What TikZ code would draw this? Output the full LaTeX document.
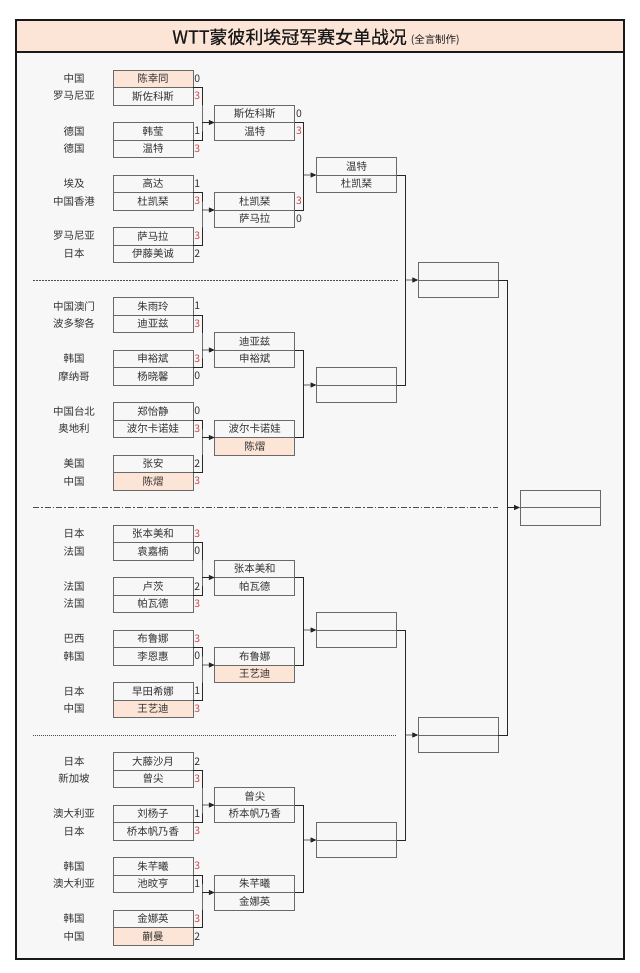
\documentclass[tikz,border=0pt]{standalone}
\usepackage{fontspec}
\setmainfont{Noto Sans CJK SC}
\usetikzlibrary{arrows.meta}
\definecolor{peach}{RGB}{252,228,214}
\definecolor{bg}{RGB}{247,247,247}
\definecolor{boxline}{RGB}{105,105,105}
\definecolor{scred}{RGB}{205,72,72}
\definecolor{txt}{RGB}{50,50,50}
\newcommand\scorecol[1]{\ifnum#1=3 \textcolor{scred}{#1}\else #1\fi}
% row: name, x, ytop, country, player, score, extra style
\newcommand\prow[7]{%
  \node[cell,#7] (#1) at (#2,#3) {#5};
  \ifx&#4&\else \node[country] (#1c) at (74,#3+8.75) {#4};\fi
  \ifx&#6&\else \node[score] (#1s) at ([xshift=1.2bp]#1.east) {\scorecol{#6}};\fi
}
\tikzset{
 cell/.style={draw=boxline, line width=1bp, fill=bg, minimum width=80bp, minimum height=17.5bp,
   inner sep=0pt, outer sep=0pt, anchor=north west, font=\fontsize{10.5}{12}\selectfont, text=txt},
 hl/.style={fill=peach},
 country/.style={font=\fontsize{10.5}{12}\selectfont, text=txt, inner sep=0pt},
 score/.style={anchor=west, inner sep=0pt, font=\fontsize{10.5}{12}\selectfont, text=txt},
 conn/.style={draw=black!85, line width=0.9bp},
 arr/.style={conn, -{Triangle[length=6bp,width=5bp]}},
 frame/.style={draw=black!90, line width=1.6bp},
 sepbase/.style={draw=black!70, line width=0.8bp},
}
\begin{document}
\begin{tikzpicture}[x=1bp,y=-1bp]
\useasboundingbox (0,0) rectangle (640,973);
\fill[white] (0,0) rectangle (640,973);
\fill[bg] (16,20) rectangle (624,959);
\fill[peach] (16,20) rectangle (624,52);
\draw[frame] (16,52) -- (624,52);
\draw[frame] (16,20) rectangle (624,959);
\node[inner sep=0pt, text=black!90] (title) at (316,37) {\fontsize{18}{20}\selectfont\addfontfeature{FakeBold=0.4}WTT蒙彼利埃冠军赛女单战况\hspace{4bp}{\fontsize{10.5}{12}\selectfont\addfontfeature{FakeBold=0}(全言制作)}};

% separators
\coordinate (s1a) at (33,280); \coordinate (s1b) at (398,280);
\coordinate (s2a) at (33,507.5); \coordinate (s2b) at (498,507.5);
\coordinate (s3a) at (33,735); \coordinate (s3b) at (396,735);
\draw[sepbase, dash pattern=on 1.6bp off 1.4bp] (s1a) -- (s1b);
\draw[sepbase, dash pattern=on 6bp off 2bp on 1.5bp off 2bp] (s2a) -- (s2b);
\draw[sepbase, dash pattern=on 1bp off 1bp] (s3a) -- (s3b);

% ===== Quarter 0 =====
\prow{q0m0a}{113}{70}{中国}{陈幸同}{0}{hl}
\prow{q0m0b}{113}{87.5}{罗马尼亚}{斯佐科斯}{3}{}
\prow{q0m1a}{113}{122.5}{德国}{韩莹}{1}{}
\prow{q0m1b}{113}{140}{德国}{温特}{3}{}
\prow{q0m2a}{113}{175}{埃及}{高达}{1}{}
\prow{q0m2b}{113}{192.5}{中国香港}{杜凯琹}{3}{}
\prow{q0m3a}{113}{227.5}{罗马尼亚}{萨马拉}{3}{}
\prow{q0m3b}{113}{245}{日本}{伊藤美诚}{2}{}
\prow{q0Aa}{214.75}{105}{}{斯佐科斯}{0}{}
\prow{q0Ab}{214.75}{122.5}{}{温特}{3}{}
\prow{q0Ba}{214.75}{192.5}{}{杜凯琹}{3}{}
\prow{q0Bb}{214.75}{210}{}{萨马拉}{0}{}
\prow{q0Ra}{316.5}{157.5}{}{温特}{}{}
\prow{q0Rb}{316.5}{175}{}{杜凯琹}{}{}

% ===== Quarter 1 =====
\prow{q1m0a}{113}{297.5}{中国澳门}{朱雨玲}{1}{}
\prow{q1m0b}{113}{315}{波多黎各}{迪亚兹}{3}{}
\prow{q1m1a}{113}{350}{韩国}{申裕斌}{3}{}
\prow{q1m1b}{113}{367.5}{摩纳哥}{杨晓馨}{0}{}
\prow{q1m2a}{113}{402.5}{中国台北}{郑怡静}{0}{}
\prow{q1m2b}{113}{420}{奥地利}{波尔卡诺娃}{3}{}
\prow{q1m3a}{113}{455}{美国}{张安}{2}{}
\prow{q1m3b}{113}{472.5}{中国}{陈熠}{3}{hl}
\prow{q1Aa}{214.75}{332.5}{}{迪亚兹}{}{}
\prow{q1Ab}{214.75}{350}{}{申裕斌}{}{}
\prow{q1Ba}{214.75}{420}{}{波尔卡诺娃}{}{}
\prow{q1Bb}{214.75}{437.5}{}{陈熠}{}{hl}
\prow{q1Ra}{316.5}{367.5}{}{}{}{}
\prow{q1Rb}{316.5}{385}{}{}{}{}

% ===== Quarter 2 =====
\prow{q2m0a}{113}{525}{日本}{张本美和}{3}{}
\prow{q2m0b}{113}{542.5}{法国}{袁嘉楠}{0}{}
\prow{q2m1a}{113}{577.5}{法国}{卢茨}{2}{}
\prow{q2m1b}{113}{595}{法国}{帕瓦德}{3}{}
\prow{q2m2a}{113}{630}{巴西}{布鲁娜}{3}{}
\prow{q2m2b}{113}{647.5}{韩国}{李恩惠}{0}{}
\prow{q2m3a}{113}{682.5}{日本}{早田希娜}{1}{}
\prow{q2m3b}{113}{700}{中国}{王艺迪}{3}{hl}
\prow{q2Aa}{214.75}{560}{}{张本美和}{}{}
\prow{q2Ab}{214.75}{577.5}{}{帕瓦德}{}{}
\prow{q2Ba}{214.75}{647.5}{}{布鲁娜}{}{}
\prow{q2Bb}{214.75}{665}{}{王艺迪}{}{hl}
\prow{q2Ra}{316.5}{612.5}{}{}{}{}
\prow{q2Rb}{316.5}{630}{}{}{}{}

% ===== Quarter 3 =====
\prow{q3m0a}{113}{752.5}{日本}{大藤沙月}{2}{}
\prow{q3m0b}{113}{770}{新加坡}{曾尖}{3}{}
\prow{q3m1a}{113}{805}{澳大利亚}{刘杨子}{1}{}
\prow{q3m1b}{113}{822.5}{日本}{桥本帆乃香}{3}{}
\prow{q3m2a}{113}{857.5}{韩国}{朱芊曦}{3}{}
\prow{q3m2b}{113}{875}{澳大利亚}{池旼亨}{1}{}
\prow{q3m3a}{113}{910}{韩国}{金娜英}{3}{}
\prow{q3m3b}{113}{927.5}{中国}{蒯曼}{2}{hl}
\prow{q3Aa}{214.75}{787.5}{}{曾尖}{}{}
\prow{q3Ab}{214.75}{805}{}{桥本帆乃香}{}{}
\prow{q3Ba}{214.75}{875}{}{朱芊曦}{}{}
\prow{q3Bb}{214.75}{892.5}{}{金娜英}{}{}
\prow{q3Ra}{316.5}{822.5}{}{}{}{}
\prow{q3Rb}{316.5}{840}{}{}{}{}

% ===== Semis and final =====
\prow{Ua}{418.25}{262.5}{}{}{}{}
\prow{Ub}{418.25}{280}{}{}{}{}
\prow{La}{418.25}{717.5}{}{}{}{}
\prow{Lb}{418.25}{735}{}{}{}{}
\prow{Fa}{520}{490}{}{}{}{}
\prow{Fb}{520}{507.5}{}{}{}{}

% ===== junction coordinates =====
\coordinate (q0j1) at (202,122.5);  \coordinate (q0j2) at (202,210);
\coordinate (q1j1) at (202,350);    \coordinate (q1j2) at (202,437.5);
\coordinate (q2j1) at (202,577.5);  \coordinate (q2j2) at (202,665);
\coordinate (q3j1) at (202,805);    \coordinate (q3j2) at (202,892.5);
\coordinate (q0k) at (303.75,175);
\coordinate (q1k) at (303.75,385);
\coordinate (q2k) at (303.75,630);
\coordinate (q3k) at (303.75,840);
\coordinate (uk) at (405.5,280);
\coordinate (lk) at (405.5,735);
\coordinate (fk) at (507.25,507.5);

% round 1 brackets
\foreach \q in {0,1,2,3}{
  \draw[conn] (q\q m0a.south east) -| (q\q j1) |- (q\q m1a.south east);
  \draw[arr] (q\q j1) -- (q\q Aa.south west);
  \draw[conn] (q\q m2a.south east) -| (q\q j2) |- (q\q m3a.south east);
  \draw[arr] (q\q j2) -- (q\q Ba.south west);
  % round 2 brackets
  \draw[conn] (q\q Aa.south east) -| (q\q k) |- (q\q Ba.south east);
  \draw[arr] (q\q k) -- (q\q Ra.south west);
}
% round 3 brackets
\draw[conn] (q0Ra.south east) -| (uk) |- (q1Ra.south east);
\draw[arr] (uk) -- (Ua.south west);
\draw[conn] (q2Ra.south east) -| (lk) |- (q3Ra.south east);
\draw[arr] (lk) -- (La.south west);
% semis bracket
\draw[conn] (Ua.south east) -| (fk) |- (La.south east);
\draw[arr] (fk) -- (Fa.south west);
\end{tikzpicture}
\end{document}
